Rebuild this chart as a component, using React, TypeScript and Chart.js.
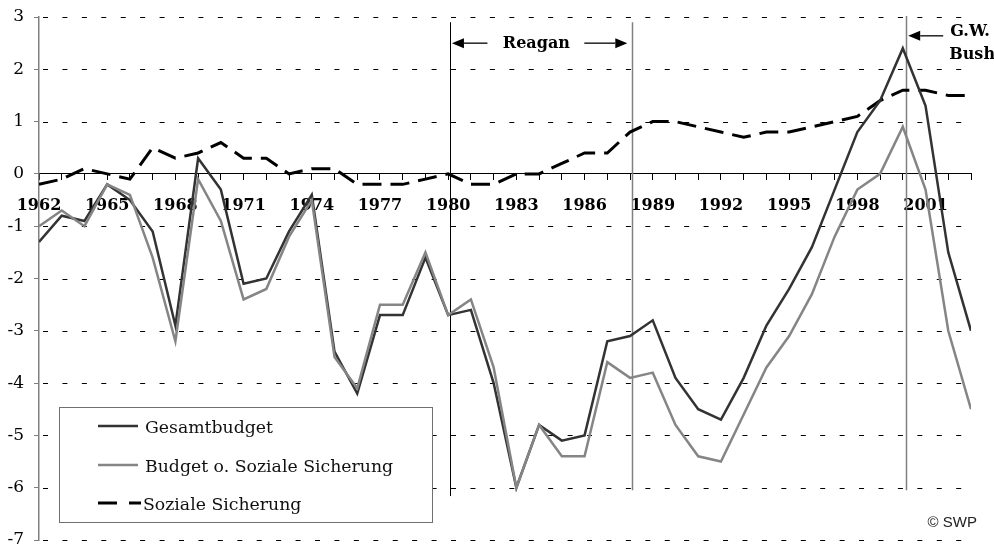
import React, { useEffect, useRef } from 'react';
import { Chart, registerables } from 'chart.js';

Chart.register(...registerables);

// ---- Data ----
const years = [
  1962, 1963, 1964, 1965, 1966, 1967, 1968, 1969, 1970, 1971,
  1972, 1973, 1974, 1975, 1976, 1977, 1978, 1979, 1980, 1981,
  1982, 1983, 1984, 1985, 1986, 1987, 1988, 1989, 1990, 1991,
  1992, 1993, 1994, 1995, 1996, 1997, 1998, 1999, 2000, 2001,
  2002, 2003,
];

const gesamtbudget = [
  -1.3, -0.8, -0.9, -0.2, -0.5, -1.1, -2.9, 0.3, -0.3, -2.1,
  -2.0, -1.1, -0.4, -3.4, -4.2, -2.7, -2.7, -1.6, -2.7, -2.6,
  -4.0, -6.0, -4.8, -5.1, -5.0, -3.2, -3.1, -2.8, -3.9, -4.5,
  -4.7, -3.9, -2.9, -2.2, -1.4, -0.3, 0.8, 1.4, 2.4, 1.3,
  -1.5, -3.0,
];

const budgetOhneSozial = [
  -1.0, -0.7, -1.0, -0.2, -0.4, -1.6, -3.2, -0.1, -0.9, -2.4,
  -2.2, -1.2, -0.5, -3.5, -4.1, -2.5, -2.5, -1.5, -2.7, -2.4,
  -3.7, -6.0, -4.8, -5.4, -5.4, -3.6, -3.9, -3.8, -4.8, -5.4,
  -5.5, -4.6, -3.7, -3.1, -2.3, -1.2, -0.3, 0.0, 0.9, -0.3,
  -3.0, -4.5,
];

const sozialeSicherung = [
  -0.2, -0.1, 0.1, 0.0, -0.1, 0.5, 0.3, 0.4, 0.6, 0.3,
  0.3, 0.0, 0.1, 0.1, -0.2, -0.2, -0.2, -0.1, 0.0, -0.2,
  -0.2, 0.0, 0.0, 0.2, 0.4, 0.4, 0.8, 1.0, 1.0, 0.9,
  0.8, 0.7, 0.8, 0.8, 0.9, 1.0, 1.1, 1.4, 1.6, 1.6,
  1.5, 1.5,
];

const xLabelYears = [1962, 1965, 1968, 1971, 1974, 1977, 1980, 1983, 1986, 1989, 1992, 1995, 1998, 2001];
const yTickValues = [3, 2, 1, 0, -1, -2, -3, -4, -5, -6, -7];

const seriesNames = ['Gesamtbudget', 'Budget o. Soziale Sicherung', 'Soziale Sicherung'];

const SERIF = '"DejaVu Serif"';
const DARK = '#333333';
const GRAY = '#858585';

const eraLines = [
  { year: 1980.1, top: 2.9, bottom: -6.16, color: '#000000', width: 1 },
  { year: 1988.1, top: 2.9, bottom: -6.05, color: '#808080', width: 1.5 },
  { year: 2000.15, top: 3.02, bottom: -6.05, color: '#808080', width: 1.5 },
];

function arrow(ctx: CanvasRenderingContext2D, x0: number, x1: number, y: number) {
  const dir = x1 > x0 ? 1 : -1;
  const head = 12;
  ctx.beginPath();
  ctx.moveTo(x0, y);
  ctx.lineTo(x1 - dir * head, y);
  ctx.stroke();
  ctx.beginPath();
  ctx.moveTo(x1, y);
  ctx.lineTo(x1 - dir * head, y - 5);
  ctx.lineTo(x1 - dir * head, y + 5);
  ctx.closePath();
  ctx.fill();
}

const decorPlugin = {
  id: 'swpDecor',
  beforeDatasetsDraw(chart: any) {
    const { ctx, chartArea, scales } = chart;
    const xs = scales.x;
    const ys = scales.y;
    ctx.save();
    ctx.strokeStyle = '#000';
    ctx.lineWidth = 1;
    ctx.setLineDash([5, 14.43]);
    const gx0 = chartArea.left + 4;
    const gx1 = chartArea.right - 9;
    for (const v of yTickValues) {
      if (v === 0) continue;
      const y = Math.round(ys.getPixelForValue(v)) + 0.5;
      ctx.beginPath();
      ctx.moveTo(gx0, y);
      ctx.lineTo(gx1, y);
      ctx.stroke();
    }
    ctx.setLineDash([]);
    for (const l of eraLines) {
      const x = Math.round(xs.getPixelForValue(l.year)) + 0.5;
      ctx.strokeStyle = l.color;
      ctx.lineWidth = l.width;
      ctx.beginPath();
      ctx.moveTo(x, ys.getPixelForValue(l.top));
      ctx.lineTo(x, ys.getPixelForValue(l.bottom));
      ctx.stroke();
    }
    ctx.restore();
  },
  afterDatasetsDraw(chart: any) {
    const { ctx, scales } = chart;
    const xs = scales.x;
    const ys = scales.y;
    ctx.save();

    // Reagan annotation
    const xr0 = xs.getPixelForValue(eraLines[0].year);
    const xr1 = xs.getPixelForValue(eraLines[1].year);
    const ay = ys.getPixelForValue(2.5);
    ctx.fillStyle = '#000';
    ctx.strokeStyle = '#000';
    ctx.lineWidth = 1.3;
    ctx.font = `bold 16px ${SERIF}`;
    ctx.textAlign = 'center';
    ctx.textBaseline = 'alphabetic';
    ctx.fillText('Reagan', (xr0 + xr1) / 2 - 5, ay + 5);
    arrow(ctx, xr0 + 37, xr0 + 1.5, ay);
    arrow(ctx, xr1 - 48, xr1 - 5, ay);

    // G.W. Bush annotation
    const xb = xs.getPixelForValue(eraLines[2].year);
    const by = ys.getPixelForValue(2.64);
    arrow(ctx, xb + 37, xb + 2, by);
    ctx.textAlign = 'left';
    ctx.textBaseline = 'alphabetic';
    ctx.fillText('G.W.', xb + 44, ys.getPixelForValue(2.64));
    ctx.fillText('Bush', xb + 43, ys.getPixelForValue(2.2));

    // Legend box
    const lx = 59.5, ly = 407.5, lw = 373, lh = 115;
    ctx.fillStyle = '#ffffff';
    ctx.fillRect(lx, ly, lw, lh);
    ctx.strokeStyle = '#707070';
    ctx.lineWidth = 1;
    ctx.strokeRect(lx, ly, lw, lh);

    const rows = [
      { y: 426, color: DARK, dash: [] as number[], width: 2.5, x1: 138 },
      { y: 465, color: GRAY, dash: [] as number[], width: 2.5, x1: 138 },
      { y: 503, color: '#000', dash: [19, 12], width: 3, x1: 141 },
    ];
    const baselines = [433, 471.5, 509.5];
    ctx.font = `17.3px ${SERIF}`;
    ctx.textAlign = 'left';
    ctx.textBaseline = 'alphabetic';
    rows.forEach((r, i) => {
      ctx.strokeStyle = r.color;
      ctx.lineWidth = r.width;
      ctx.setLineDash(r.dash);
      ctx.beginPath();
      ctx.moveTo(98, r.y);
      ctx.lineTo(r.x1, r.y);
      ctx.stroke();
      ctx.setLineDash([]);
      ctx.fillStyle = '#111';
      ctx.fillText(seriesNames[i], i === 2 ? 143 : 145, baselines[i]);
    });

    // copyright
    ctx.font = '15px "Liberation Sans"';
    ctx.fillStyle = '#222';
    ctx.textAlign = 'right';
    ctx.textBaseline = 'middle';
    ctx.fillText('© SWP', 977, 523);

    ctx.restore();
  },
};

export default function App() {
  const canvasRef = useRef<HTMLCanvasElement | null>(null);

  useEffect(() => {
    document.body.style.margin = '0';
    const canvas = canvasRef.current;
    if (!canvas) return;
    const toPoints = (vals: number[]) => years.map((yr, i) => ({ x: yr, y: vals[i] }));
    const chart = new Chart(canvas, {
      type: 'line',
      data: {
        datasets: [
          {
            label: seriesNames[0],
            data: toPoints(gesamtbudget),
            borderColor: DARK,
            borderWidth: 2.5,
            pointRadius: 0,
            tension: 0,
            order: 2,
          },
          {
            label: seriesNames[1],
            data: toPoints(budgetOhneSozial),
            borderColor: GRAY,
            borderWidth: 2.5,
            pointRadius: 0,
            tension: 0,
            order: 1,
          },
          {
            label: seriesNames[2],
            data: toPoints(sozialeSicherung),
            borderColor: '#000000',
            borderWidth: 3,
            borderDash: [19, 9],
            pointRadius: 0,
            tension: 0,
            order: 3,
          },
        ],
      },
      options: {
        responsive: false,
        animation: false,
        events: [],
        layout: { padding: { left: 0, right: 23, top: 17, bottom: 7 } },
        plugins: {
          legend: { display: false },
          tooltip: { enabled: false },
          title: { display: false },
        },
        scales: {
          x: {
            type: 'linear',
            position: { y: 0 } as any,
            min: 1962,
            max: 2003,
            ticks: {
              stepSize: 1,
              autoSkip: false,
              maxRotation: 0,
              minRotation: 0,
              padding: 16,
              color: '#000',
              font: { family: 'DejaVu Serif', size: 16, weight: 'bold' },
              callback: (v: any) => (xLabelYears.includes(Number(v)) ? String(v) : ''),
            },
            grid: {
              drawOnChartArea: false,
              drawTicks: true,
              tickLength: 6,
              color: '#000',
              tickWidth: 1,
            },
            border: { color: '#000', width: 1 },
            afterFit: (scale: any) => {
              scale.paddingLeft = 0;
              scale.paddingRight = 0;
            },
          },
          y: {
            type: 'linear',
            min: -7,
            max: 3,
            ticks: {
              stepSize: 1,
              padding: 10,
              color: '#000',
              font: { family: 'DejaVu Serif', size: 17 },
              callback: (v: any) => String(v),
            },
            grid: {
              drawOnChartArea: false,
              drawTicks: true,
              tickLength: 5,
              color: '#808080',
            },
            border: { color: '#808080', width: 1.5 },
            afterFit: (scale: any) => {
              scale.width = 39;
              scale.paddingTop = 0;
              scale.paddingBottom = 0;
            },
          },
        },
      } as any,
      plugins: [decorPlugin],
    });
    return () => chart.destroy();
  }, []);

  return (
    <div style={{ position: 'fixed', left: 0, top: 0, width: 994, height: 547, background: '#fff' }}>
      <canvas ref={canvasRef} width={994} height={547} />
    </div>
  );
}
